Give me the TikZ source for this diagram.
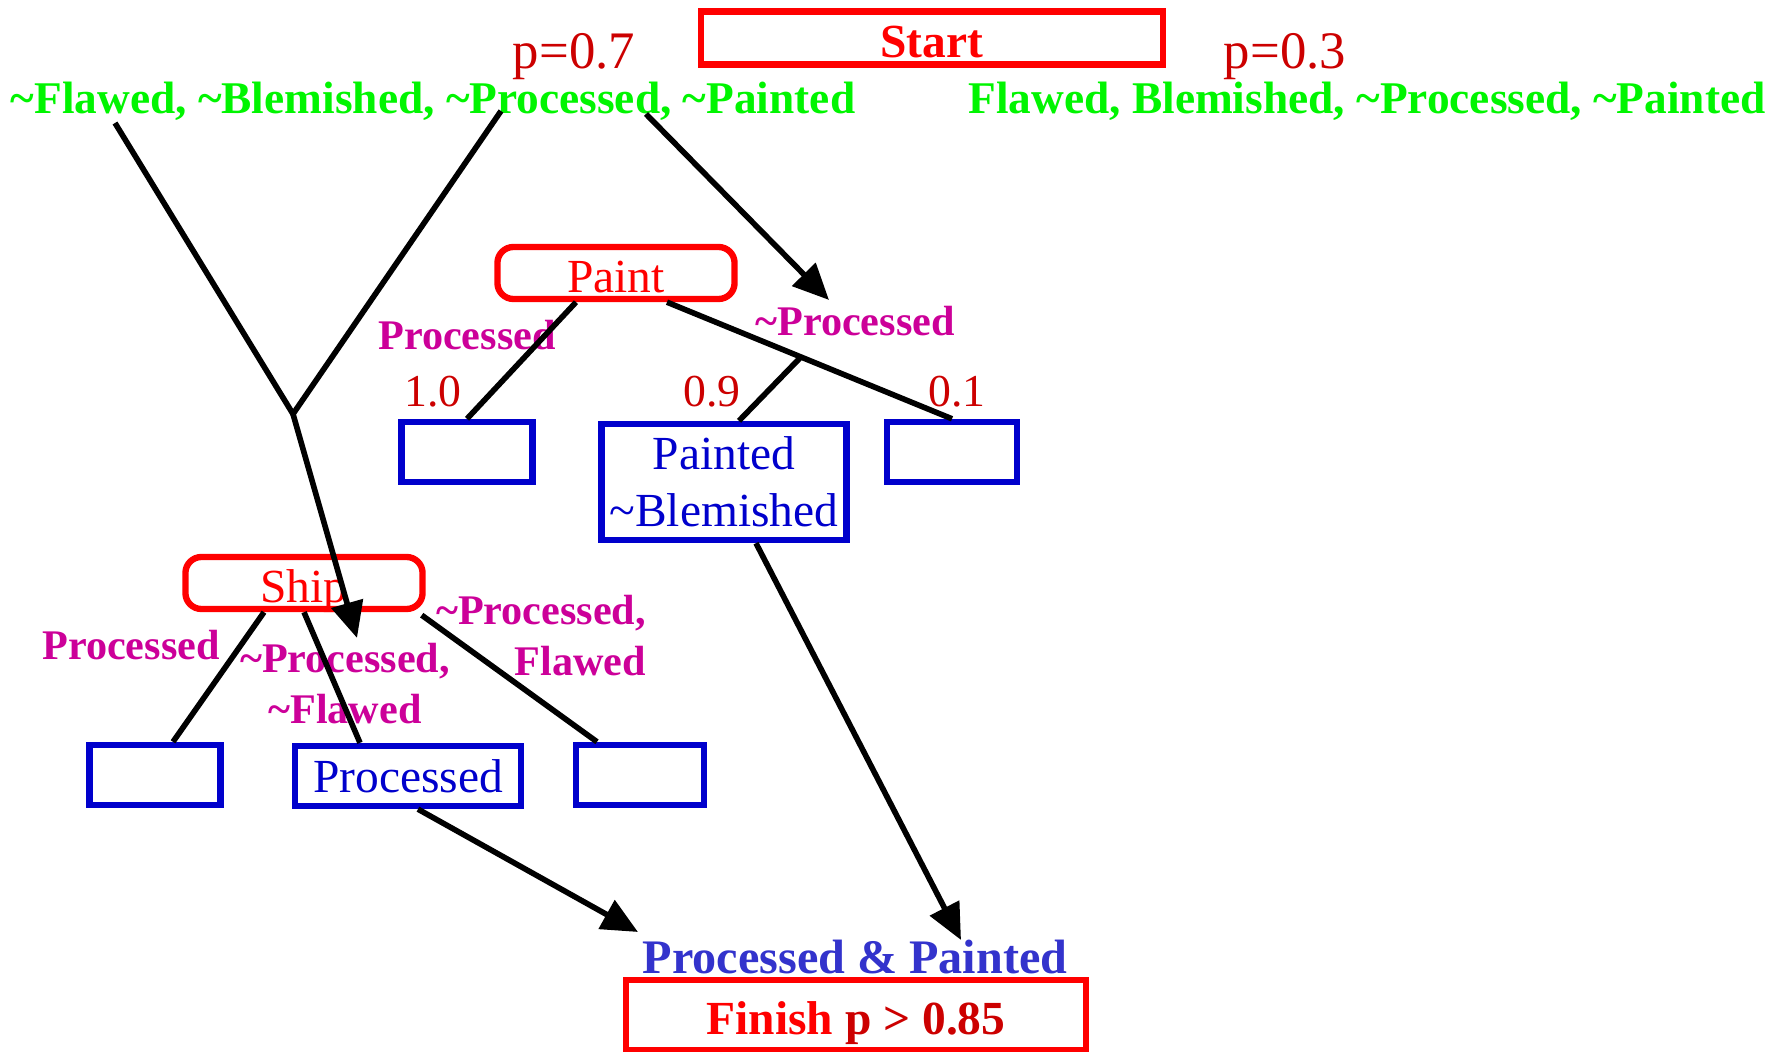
\documentclass[tikz,border=0pt]{standalone}
\usepackage{fontspec}
\setmainfont{Liberation Serif}
\usepackage{tikz}
\usetikzlibrary{positioning,arrows.meta,calc}
\definecolor{initgreen}{RGB}{0,245,0}
\definecolor{condpink}{RGB}{204,0,153}
\definecolor{probred}{RGB}{204,0,0}
\definecolor{statblue}{RGB}{0,0,204}
\definecolor{goalblue}{RGB}{51,51,204}
\begin{document}
\begin{tikzpicture}[
x=0.01cm, y=-0.01cm,
act/.style={draw=red, line width=1.8pt, rounded corners=1.6mm, inner sep=0pt, text height=11pt, text depth=0pt, text=red, font=\fontsize{13.5}{15}\selectfont},
ends/.style={draw=red, line width=1.8pt, inner sep=0pt, text height=11pt, text depth=0pt, text=red, font=\fontsize{13.5}{15}\selectfont\bfseries},
state/.style={draw=statblue, line width=1.8pt, inner sep=0pt, align=center, text=statblue, minimum height=0.6cm, font=\fontsize{13.5}{16.2}\selectfont},
cond/.style={text=condpink, inner sep=0pt, align=center, font=\fontsize{12}{14.5}\selectfont\bfseries},
prob/.style={text=probred, inner sep=0pt, font=\fontsize{13}{15}\selectfont},
init/.style={text=initgreen, inner sep=0pt, anchor=base, font=\fontsize{12.9}{15}\selectfont\bfseries},
ln/.style={line width=1.6pt},
arr/.style={-{Triangle[length=0.36cm,width=0.32cm]}, line width=1.6pt}
]
\clip (0,0) rectangle (1787,1052);

% start state
\node[ends, minimum width=4.62cm, minimum height=0.53cm] (start) at (932,38) {Start};
\node[prob, font=\fontsize{15}{17}\selectfont] (p7) at (574,57) {p=0.7};
\node[prob, font=\fontsize{15}{17}\selectfont] (p3) at (1285,57) {p=0.3};
\node[init] (good) at (433,114) {\textasciitilde Flawed, \textasciitilde Blemished, \textasciitilde Processed, \textasciitilde Painted};
\node[init] (bad) at (1367,114) {Flawed, Blemished, \textasciitilde Processed, \textasciitilde Painted};

\coordinate (f1) at (115,123);
\coordinate (f2) at (501,111);
\coordinate (f3) at (646,114);
\coordinate (join) at (293,414);
\coordinate (toship) at (357,638);
\coordinate (topaint) at (829,300);

% paint step
\node[act, minimum width=2.37cm, minimum height=0.52cm] (paint) at (616,273) {Paint};
\node[state, minimum width=1.31cm] (pa1) at (467,452) {};
\node[state, minimum width=2.45cm, minimum height=1.16cm] (painted) at (724,482) {Painted\\\textasciitilde Blemished};
\node[state, minimum width=1.30cm] (pa3) at (952,452) {};
\node[cond] (pc1) at (467,335) {Processed};
\node[cond] (pc2) at (855,321) {\textasciitilde Processed};
\node[prob] (q1) at (433,392) {1.0};
\node[prob] (q2) at (712,392) {0.9};
\node[prob] (q3) at (957,392) {0.1};

% ship step
\node[act, minimum width=2.37cm, minimum height=0.52cm] (ship) at (304,583) {Ship};
\node[state, minimum width=1.31cm] (sh1) at (155,775) {};
\node[state, minimum width=2.26cm] (proc) at (408,776) {Processed};
\node[state, minimum width=1.28cm] (sh3) at (640,775) {};
\node[cond] (sc1) at (131,645) {Processed};
\node[cond] (sc2) at (345,684) {\textasciitilde Processed,\\\textasciitilde Flawed};
\node[cond, align=right] (sc3) at (541,636) {\textasciitilde Processed,\\Flawed};

% goal
\node[ends, minimum width=4.60cm, minimum height=0.70cm] (finish) at (856,1015) {Finish {\color{probred}p > 0.85}};
\node[text=goalblue, inner sep=0pt, font=\fontsize{13.7}{16}\selectfont\bfseries] (goal) at (855,957) {Processed \& Painted};
\coordinate (tofin1) at (638,932);
\coordinate (tofin2) at (961,940);

\draw[ln] (f1) -- (join) -- (f2);
\draw[arr] (join) -- (toship);
\draw[arr] (f3) -- (topaint);

\draw[ln] ($(paint.south)+(-40,0)$) -- (pa1.north);
\draw[ln] ($(paint.south)+(51,0)$) -- (pa3.north) coordinate[pos=0.47] (split);
\draw[ln] (split) -- ($(painted.north)+(15,0)$);

\draw[ln] ($(ship.south)+(-40,0)$) -- ($(sh1.north)+(18,0)$);
\draw[ln] (ship.south) -- ($(proc.north)+(-48,0)$);
\draw[ln] ($(ship.south east)+(-4,3)$) -- ($(sh3.north)+(-43,0)$);

\draw[arr] ($(proc.south)+(10,0)$) -- (tofin1);
\draw[arr] ($(painted.south)+(32,0)$) -- (tofin2);
\end{tikzpicture}
\end{document}
